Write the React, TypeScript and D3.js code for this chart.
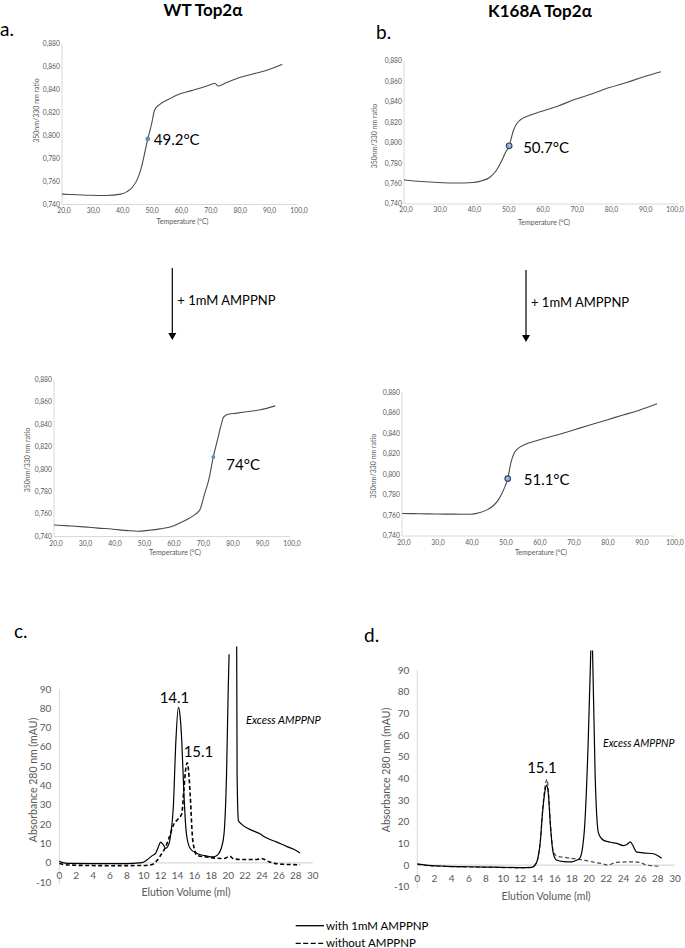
import React from 'react';
import * as d3 from 'd3';

// ---------- DATA ----------
const tempTicks = [20, 30, 40, 50, 60, 70, 80, 90, 100];
const ratioTicks = [0.74, 0.76, 0.78, 0.8, 0.82, 0.84, 0.86, 0.88];
const volTicks = [0, 2, 4, 6, 8, 10, 12, 14, 16, 18, 20, 22, 24, 26, 28, 30];
const absTicks = [-10, 0, 10, 20, 30, 40, 50, 60, 70, 80, 90];

// WT Top2a, no AMPPNP (Tm 49.2)
const wtTemp = [20, 25, 30, 35, 40, 42, 44, 46, 47, 48, 49.2, 50.5, 51.5, 53, 56, 60, 64, 68, 71, 72, 73.2, 76, 80, 85, 90, 95];
const wtRatio = [0.749, 0.7485, 0.748, 0.7478, 0.749, 0.751, 0.755, 0.764, 0.772, 0.783, 0.797, 0.81, 0.822, 0.8265, 0.831, 0.836, 0.839, 0.842, 0.8445, 0.8455, 0.843, 0.846, 0.85, 0.8535, 0.857, 0.862];
// K168A Top2a, no AMPPNP (Tm 50.7)
const kTemp = [20, 25, 30, 35, 40, 43, 45, 47, 48.5, 49.5, 50.7, 52, 53, 54, 56, 60, 65, 70, 75, 80, 85, 90, 95];
const kRatio = [0.7635, 0.762, 0.761, 0.7605, 0.761, 0.763, 0.766, 0.773, 0.782, 0.7895, 0.797, 0.8125, 0.819, 0.8225, 0.826, 0.8305, 0.836, 0.8425, 0.848, 0.854, 0.859, 0.8645, 0.8695];
// WT Top2a + 1mM AMPPNP (Tm 74)
const wtAmpTemp = [20, 25, 30, 35, 40, 45, 48.5, 52, 56, 60, 63, 66, 68, 69.5, 71, 72.5, 74, 75.5, 76.5, 77.5, 79, 82, 86, 90, 95];
const wtAmpRatio = [0.7503, 0.7495, 0.7486, 0.7475, 0.7465, 0.7452, 0.7447, 0.7455, 0.7468, 0.749, 0.7525, 0.7565, 0.76, 0.764, 0.7775, 0.791, 0.811, 0.827, 0.838, 0.8465, 0.849, 0.85, 0.8515, 0.853, 0.8565];
// K168A Top2a + 1mM AMPPNP (Tm 51.1)
const kAmpTemp = [20, 25, 30, 35, 40, 43, 45, 47, 48.5, 50, 51.1, 52, 53, 54, 56, 60, 65, 70, 75, 80, 85, 90, 95];
const kAmpRatio = [0.762, 0.7617, 0.7615, 0.7613, 0.7612, 0.763, 0.7655, 0.77, 0.776, 0.786, 0.796, 0.811, 0.821, 0.825, 0.829, 0.8335, 0.838, 0.843, 0.848, 0.853, 0.858, 0.863, 0.869];

const tmValues = [49.2, 50.7, 74, 51.1];
const tmRatios = [0.797, 0.797, 0.811, 0.796];
const tmLabels = ['49.2°C', '50.7°C', '74°C', '51.1°C'];

// Gel filtration, WT (panel c)
const cSolidVol = [0, 0.4, 1, 4, 8, 9.5, 10, 10.5, 11, 11.4, 11.7, 12.0, 12.3, 12.6, 12.9, 13.2, 13.5, 13.8, 14.1, 14.3, 14.5, 14.75, 15.05, 15.5, 16.3, 17.2, 18.0, 18.5, 18.9, 19.2, 19.5, 19.8, 20.0, 20.1, 20.55, 21.0, 21.05, 21.2, 21.6, 22.5, 23.7, 24.5, 25.7, 26.9, 27.7, 28.5];
const cSolidAbs: (number | null)[] = [0.8, 0.2, -0.2, -0.3, -0.3, 0, 0.5, 2, 3.8, 5, 8, 10.8, 9.5, 7.5, 9, 15, 29, 63, 80.5, 76, 63, 36, 15, 7.5, 4.9, 3.8, 3.2, 3.5, 5, 8, 15, 46, 90, 108, null, 112, 46, 22, 20, 17.5, 15.2, 13, 10.9, 8.6, 7.2, 5.2];
const cDashVol = [0, 0.5, 2, 6, 10, 11, 11.5, 12, 12.5, 13, 13.5, 14.1, 14.5, 14.75, 15.0, 15.15, 15.3, 15.5, 15.8, 16.3, 17.4, 18.5, 19.5, 20.2, 20.6, 21.5, 23.4, 23.9, 24.9, 26.5, 28.5];
const cDashAbs = [-0.3, -0.8, -1.2, -1.4, -1.3, -0.8, 1, 4, 7.5, 13, 19.5, 23, 25.5, 38, 49.7, 51.8, 48, 35, 11.8, 4, 3.1, 2.5, 2.3, 3.5, 2.2, 1.8, 1.8, 2.3, 0.5, -0.7, -0.9];

// Gel filtration, K168A (panel d)
const dSolidVol = [0, 1, 3, 6, 9, 12, 13.3, 13.7, 14.0, 14.3, 14.6, 14.9, 15.06, 15.25, 15.5, 15.8, 16.2, 17.0, 18.0, 18.6, 18.9, 19.2, 19.5, 19.9, 20.2, 20.3, 20.4, 20.7, 21.1, 21.65, 22.5, 23.2, 24.0, 24.4, 24.8, 25.1, 25.5, 26.3, 27.5, 28.0, 28.45];
const dSolidAbs: (number | null)[] = [0.5, 0, -0.5, -0.8, -1.0, -1.2, -1.1, 0, 2.5, 10, 25, 35, 36.9, 33, 18, 6, 2.3, 1.6, 1.5, 2.3, 3.1, 7, 19, 57.6, 99, null, 99, 42, 14.6, 11.5, 10.5, 10, 9, 9.5, 10.7, 9, 6.1, 5.6, 5.2, 4.3, 3.1];
const dDashVol = [0, 1, 3, 6, 9, 12, 13.3, 13.7, 14.0, 14.3, 14.6, 14.9, 15.1, 15.25, 15.5, 15.8, 16.2, 17.0, 18.0, 19.7, 21.0, 21.65, 22.1, 23.2, 25.1, 25.9, 26.7, 28.3];
const dDashAbs = [0.3, -0.2, -0.6, -0.9, -1.1, -1.3, -1.1, 0, 2.5, 10, 26, 37, 39.5, 35, 19, 7, 4.1, 3.6, 3.1, 2.0, 1.0, 0.5, 0, 1.2, 1.5, 1.2, 0, -0.6];

const legendLabels = ['with 1mM AMPPNP', 'without AMPPNP'];

// ---------- STYLE ----------
const FONT = 'Lato, "Open Sans", sans-serif';
const GRAY_TXT = '#595959';
const AXIS = '#d9d9d9';

const comma = (v: number, d: number) => v.toFixed(d).replace('.', ',');

type ThermalLayout = {
  x0: number; x1: number; yBot: number; yTop: number;
  yTitle: [number, number]; xTitleY: number; tickLabelDy: number;
  labelDx: number; labelDy: number; marker: 'filled' | 'ring'; r: number;
};

function ThermalPanel(props: { temps: number[]; ratios: number[]; idx: number; L: ThermalLayout }) {
  const { temps, ratios, idx, L } = props;
  const x = d3.scaleLinear().domain([20, 100]).range([L.x0, L.x1]);
  const y = d3.scaleLinear().domain([0.74, 0.88]).range([L.yBot, L.yTop]);
  const pts = temps.map((t, i) => [t, ratios[i]] as [number, number]);
  const line = d3.line<[number, number]>().x(d => x(d[0])).y(d => y(d[1])).curve(d3.curveMonotoneX);
  const mx = x(tmValues[idx]);
  const my = y(tmRatios[idx]);
  return (
    <g>
      <line x1={L.x0} x2={L.x0} y1={y(0.88)} y2={y(0.74)} stroke={AXIS} strokeWidth={1} />
      <line x1={L.x0} x2={L.x1} y1={y(0.74)} y2={y(0.74)} stroke={AXIS} strokeWidth={1} />
      {ratioTicks.map(v => (
        <text key={v} x={L.x0 - 2} y={y(v)} dy="0.35em" textAnchor="end" fontSize={6.8} fill={GRAY_TXT} fontFamily={FONT}>{comma(v, 3)}</text>
      ))}
      {tempTicks.map(v => {
        const px = Math.min(x(v) + 2, 675);
        return (
          <text key={v} x={px} y={L.yBot + L.tickLabelDy} dy="0.35em" textAnchor="middle" fontSize={6.8} fill={GRAY_TXT} fontFamily={FONT}>{comma(v, 1)}</text>
        );
      })}
      <text x={(L.x0 + L.x1) / 2 + 3} y={L.xTitleY} dy="0.35em" textAnchor="middle" fontSize={7} fill={GRAY_TXT} fontFamily={FONT}>Temperature (°C)</text>
      <text transform={`translate(${L.yTitle[0]},${L.yTitle[1]}) rotate(-90)`} dy="0.35em" textAnchor="middle" fontSize={7} fill={GRAY_TXT} fontFamily={FONT}>350nm/330 nm ratio</text>
      <path d={line(pts) || ''} fill="none" stroke="#4a4a4a" strokeWidth={1.1} />
      {L.marker === 'filled'
        ? <circle cx={mx} cy={my} r={L.r} fill="#5b8fc7" />
        : <circle cx={mx} cy={my} r={L.r} fill="#9fb6d3" stroke="#2c4a78" strokeWidth={1.2} />}
      <text x={mx + L.labelDx} y={my + L.labelDy} fontSize={15} fill="#000" fontFamily={FONT}>{tmLabels[idx]}</text>
    </g>
  );
}

type ChromLayout = {
  x0: number; x1: number; yBot: number; yTop: number;
  yTitle: [number, number]; xTitleY: number;
};

function ChromPanel(props: {
  solidV: number[]; solidA: (number | null)[]; dashV: number[]; dashA: (number | null)[]; L: ChromLayout; dashW: number; dashColor: string;
}) {
  const { solidV, solidA, dashV, dashA, L } = props;
  const x = d3.scaleLinear().domain([0, 30]).range([L.x0, L.x1]);
  const y = d3.scaleLinear().domain([-10, 90]).range([L.yBot, L.yTop]);
  const line = d3.line<[number, number | null]>()
    .defined(d => d[1] != null)
    .x(d => x(d[0])).y(d => y(d[1] as number))
    .curve(d3.curveMonotoneX);
  const sp = solidV.map((v, i) => [v, solidA[i]] as [number, number | null]);
  const dp = dashV.map((v, i) => [v, dashA[i]] as [number, number | null]);
  return (
    <g>
      <line x1={L.x0} x2={L.x0} y1={y(90)} y2={y(-10) + 2} stroke={AXIS} strokeWidth={1} />
      <line x1={L.x0} x2={L.x1} y1={y(0)} y2={y(0)} stroke={AXIS} strokeWidth={1.2} />
      {absTicks.map(v => (
        <text key={v} x={L.x0 - 8} y={y(v)} dy="0.35em" textAnchor="end" fontSize={10} fill={GRAY_TXT} fontFamily={FONT}>{v}</text>
      ))}
      {volTicks.map(v => (
        <text key={v} x={x(v)} y={y(0) + 13} dy="0.35em" textAnchor="middle" fontSize={10} fill={GRAY_TXT} fontFamily={FONT}>{v}</text>
      ))}
      <text x={(L.x0 + L.x1) / 2} y={L.xTitleY} dy="0.35em" textAnchor="middle" fontSize={10.5} fill={GRAY_TXT} fontFamily={FONT}>Elution Volume (ml)</text>
      <text transform={`translate(${L.yTitle[0]},${L.yTitle[1]}) rotate(-90)`} dy="0.35em" textAnchor="middle" fontSize={10.5} fill={GRAY_TXT} fontFamily={FONT}>Absorbance 280 nm (mAU)</text>
      <path d={line(dp) || ''} fill="none" stroke={props.dashColor} strokeWidth={props.dashW} strokeDasharray="4,2.5" />
      <path d={line(sp) || ''} fill="none" stroke="#000" strokeWidth={1.2} />
    </g>
  );
}

function Arrow(props: { x: number; y1: number; y2: number; label: string }) {
  const { x, y1, y2, label } = props;
  return (
    <g>
      <line x1={x} x2={x} y1={y1} y2={y2 - 6} stroke="#000" strokeWidth={1.2} />
      <path d={`M${x - 4},${y2 - 7} L${x + 4},${y2 - 7} L${x},${y2} Z`} fill="#000" />
      <text x={x + 5} y={(y1 + y2) / 2 - 4} dy="0.35em" fontSize={13} fontFamily={FONT} fill="#000">{label}</text>
    </g>
  );
}

export default function App() {
  const thermA: ThermalLayout = { x0: 62, x1: 297, yBot: 204.5, yTop: 43.5, yTitle: [37, 110.5], xTitleY: 222, tickLabelDy: 6.5, labelDx: 6, labelDy: 6, marker: 'filled', r: 2.4 };
  const thermB: ThermalLayout = { x0: 404, x1: 678, yBot: 204, yTop: 61, yTitle: [375, 136], xTitleY: 223, tickLabelDy: 5.5, labelDx: 14, labelDy: 7, marker: 'ring', r: 2.8 };
  const thermA2: ThermalLayout = { x0: 54, x1: 290, yBot: 536.5, yTop: 379.5, yTitle: [28, 460], xTitleY: 553, tickLabelDy: 7.5, labelDx: 13, labelDy: 13, marker: 'filled', r: 2 };
  const thermB2: ThermalLayout = { x0: 402, x1: 674, yBot: 536, yTop: 392.5, yTitle: [374, 466], xTitleY: 553, tickLabelDy: 7, labelDx: 16, labelDy: 6, marker: 'ring', r: 2.8 };
  const chromC: ChromLayout = { x0: 59.3, x1: 312.7, yBot: 882.3, yTop: 689, yTitle: [33, 780], xTitleY: 892 };
  const chromD: ChromLayout = { x0: 417.3, x1: 675, yBot: 886.7, yTop: 670, yTitle: [386.7, 770], xTitleY: 896.7 };

  return (
    <svg width={685} height={948} style={{ position: 'absolute', left: 0, top: 0, background: '#fff' }} fontFamily={FONT}>
      <rect width={685} height={948} fill="#fff" />
      <text x={203} y={16} textAnchor="middle" fontSize={17} fontWeight="bold" fontFamily={FONT}>WT Top2α</text>
      <text x={540} y={17} textAnchor="middle" fontSize={17} fontWeight="bold" fontFamily={FONT}>K168A Top2α</text>
      <text x={0} y={36} fontSize={19} fontFamily={FONT}>a.</text>
      <text x={376} y={38.5} fontSize={19} fontFamily={FONT}>b.</text>
      <text x={14} y={638} fontSize={19} fontFamily={FONT}>c.</text>
      <text x={364} y={642} fontSize={19} fontFamily={FONT}>d.</text>

      <ThermalPanel temps={wtTemp} ratios={wtRatio} idx={0} L={thermA} />
      <ThermalPanel temps={kTemp} ratios={kRatio} idx={1} L={thermB} />
      <ThermalPanel temps={wtAmpTemp} ratios={wtAmpRatio} idx={2} L={thermA2} />
      <ThermalPanel temps={kAmpTemp} ratios={kAmpRatio} idx={3} L={thermB2} />

      <Arrow x={172.3} y1={268} y2={340} label="+ 1mM AMPPNP" />
      <Arrow x={526} y1={270} y2={342} label="+ 1mM AMPPNP" />

      <ChromPanel solidV={cSolidVol} solidA={cSolidAbs} dashV={cDashVol} dashA={cDashAbs} L={chromC} dashW={1.6} dashColor="#000" />
      <ChromPanel solidV={dSolidVol} solidA={dSolidAbs} dashV={dDashVol} dashA={dDashAbs} L={chromD} dashW={1.2} dashColor="#444" />

      <text x={174.5} y={703} textAnchor="middle" fontSize={15} fontFamily={FONT}>14.1</text>
      <text x={198.5} y={757} textAnchor="middle" fontSize={15} fontFamily={FONT}>15.1</text>
      <text x={246} y={724} fontSize={11} fontStyle="italic" fontFamily={FONT}>Excess AMPPNP</text>
      <text x={542} y={773} textAnchor="middle" fontSize={15} fontFamily={FONT}>15.1</text>
      <text x={603} y={747} fontSize={10.5} fontStyle="italic" fontFamily={FONT}>Excess AMPPNP</text>

      <line x1={295.7} x2={324} y1={925.7} y2={925.7} stroke="#000" strokeWidth={1.3} />
      <text x={326} y={925.7} dy="0.35em" fontSize={11.5} fontFamily={FONT}>{legendLabels[0]}</text>
      <line x1={295.7} x2={324} y1={943.3} y2={943.3} stroke="#000" strokeWidth={1.3} strokeDasharray="5,2.5" />
      <text x={326} y={943.3} dy="0.35em" fontSize={11.5} fontFamily={FONT}>{legendLabels[1]}</text>
    </svg>
  );
}
